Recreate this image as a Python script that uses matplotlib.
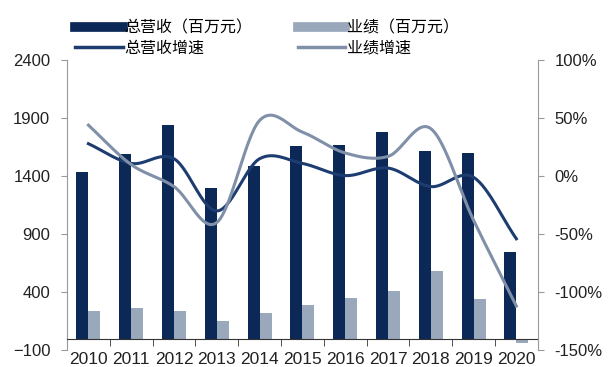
import numpy as np
import matplotlib.pyplot as plt
from matplotlib.lines import Line2D
from matplotlib.ticker import FixedLocator, FuncFormatter

years = ['2010', '2011', '2012', '2013', '2014', '2015', '2016', '2017', '2018', '2019', '2020']
revenue = [1437, 1590, 1837, 1296, 1486, 1661, 1670, 1782, 1618, 1604, 742]
profit = [236, 259, 236, 147, 216, 288, 346, 411, 581, 337, -40]
revenue_growth = [28, 11, 15, -30, 15, 11, 0.5, 7, -9, -1, -54]
profit_growth = [44, 10, -9, -40, 48, 38, 20, 17, 41, -38, -112]

navy = '#0c2856'
grey_bar = '#9aa8bb'
navy_line = '#1d3d70'
grey_line = '#8090a8'

plt.rcParams['font.family'] = ['Liberation Sans', 'Noto Sans CJK SC']


def smooth(xs, ys, steps=30):
    # Catmull-Rom spline through the points, like a spreadsheet's smoothed line
    xs = np.asarray(xs, float)
    ys = np.asarray(ys, float)
    px = np.concatenate([[2 * xs[0] - xs[1]], xs, [2 * xs[-1] - xs[-2]]])
    py = np.concatenate([[2 * ys[0] - ys[1]], ys, [2 * ys[-1] - ys[-2]]])
    out_x, out_y = [], []
    t = np.linspace(0, 1, steps)
    for i in range(1, len(px) - 2):
        for p, out in ((px, out_x), (py, out_y)):
            p0, p1, p2, p3 = p[i - 1], p[i], p[i + 1], p[i + 2]
            seg = 0.5 * (2 * p1 + (-p0 + p2) * t
                         + (2 * p0 - 5 * p1 + 4 * p2 - p3) * t ** 2
                         + (-p0 + 3 * p1 - 3 * p2 + p3) * t ** 3)
            out.extend(seg)
    return np.array(out_x), np.array(out_y)


fig = plt.figure(figsize=(6.09, 3.67), dpi=100)
ax = fig.add_axes([0.110, 0.046, 0.773, 0.790])
ax2 = ax.twinx()

x = np.arange(len(years))
w = 0.28
ax.bar(x - w / 2, revenue, w, color=navy, zorder=2)
ax.bar(x + w / 2, profit, w, color=grey_bar, zorder=2)

ax.set_xlim(-0.5, len(years) - 0.5)
ax.set_ylim(-100, 2400)
ax.set_yticks([-100, 400, 900, 1400, 1900, 2400])

# x axis sits on zero, labels pushed down below the plot
ax.spines['bottom'].set_position(('data', 0))
ax.spines['bottom'].set_color('#333333')
ax.spines['top'].set_visible(False)
ax.spines['right'].set_visible(False)
ax.spines['left'].set_color('#999999')
ax.set_xticks(x)
ax.set_xticklabels(years)
ax.xaxis.set_minor_locator(FixedLocator(np.arange(0.5, len(years) - 1, 1)))
ax.tick_params(axis='x', which='major', length=0, pad=9.5, labelsize=12.5, colors='#222222')
ax.tick_params(axis='x', which='minor', length=5, direction='out', color='#333333')
ax.tick_params(axis='y', length=4, color='#999999', labelsize=12, colors='#222222', pad=8)

sx, sy = smooth(x, revenue_growth)
ax2.plot(sx, sy, color=navy_line, lw=2.2, zorder=3)
sx, sy = smooth(x, profit_growth)
ax2.plot(sx, sy, color=grey_line, lw=2.2, zorder=3)

ax2.set_ylim(-150, 100)
ax2.set_yticks([-150, -100, -50, 0, 50, 100])
ax2.yaxis.set_major_formatter(FuncFormatter(lambda v, p: f'{v:.0f}%'))
for s in ('top', 'left', 'bottom'):
    ax2.spines[s].set_visible(False)
ax2.spines['right'].set_color('#999999')
ax2.tick_params(axis='y', length=4, color='#999999', labelsize=12, colors='#222222', pad=8)

handles = [
    Line2D([], [], color=navy, lw=7),
    Line2D([], [], color=navy_line, lw=2.5),
    Line2D([], [], color=grey_bar, lw=7),
    Line2D([], [], color=grey_line, lw=2.5),
]
labels = ['总营收（百万元）', '总营收增速', '业绩（百万元）', '业绩增速']
fig.legend(handles, labels, ncol=2, loc='upper left', bbox_to_anchor=(0.10, 0.985),
           frameon=False, handlelength=3.0, handletextpad=0.1, columnspacing=2.8,
           labelspacing=0.15, prop={'family': 'Noto Sans CJK SC', 'size': 11.5})

fig.savefig('out.png', dpi=100)
